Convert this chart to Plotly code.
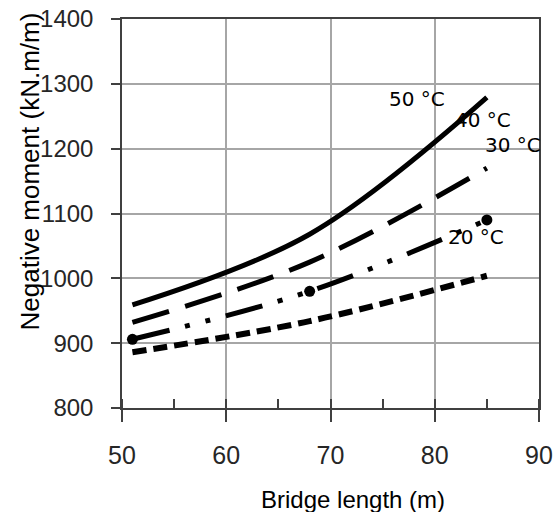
import plotly.graph_objects as go

# Data
bridge_length = [51, 68, 85]
moment_50C = [959, 1068, 1279]
moment_40C = [932, 1025, 1170]
moment_30C = [906, 980, 1090]
moment_20C = [886, 934, 1004]

series_labels = ["50 °C", "40 °C", "30 °C", "20 °C"]
label_x = [78.3, 84.65, 87.5, 84.0]
label_y = [1277, 1244, 1206, 1064]

x_ticks = [50, 60, 70, 80, 90]
y_ticks = [800, 900, 1000, 1100, 1200, 1300, 1400]

fig = go.Figure()

fig.add_trace(go.Scatter(x=bridge_length, y=moment_50C, mode="lines",
                         line=dict(color="black", width=5, shape="spline"),
                         name="50 °C"))
fig.add_trace(go.Scatter(x=bridge_length, y=moment_40C, mode="lines",
                         line=dict(color="black", width=5, shape="spline",
                                   dash="38px,17px"),
                         name="40 °C"))
fig.add_trace(go.Scatter(x=bridge_length, y=moment_30C, mode="lines+markers",
                         line=dict(color="black", width=5, shape="spline",
                                   dash="38px,16px,5px,16px,5px,16px"),
                         marker=dict(color="black", size=11),
                         name="30 °C"))
fig.add_trace(go.Scatter(x=bridge_length, y=moment_20C, mode="lines",
                         line=dict(color="black", width=6, shape="spline",
                                   dash="14px,7px"),
                         name="20 °C"))

for t, xx, yy in zip(series_labels, label_x, label_y):
    fig.add_annotation(x=xx, y=yy, xref="x", yref="y", text=t, showarrow=False,
                       xanchor="center", yanchor="middle",
                       font=dict(family="DejaVu Sans", size=20, color="black"))

fig.add_annotation(x=(29 - 122) / 417, y=(408 - 171.5) / 389, xref="paper", yref="paper",
                   text="Negative moment (kN.m/m)", textangle=-90, showarrow=False,
                   xanchor="center", yanchor="middle",
                   font=dict(family="Liberation Sans", size=26, color="black"))
fig.add_annotation(x=(353 - 122) / 417, y=(408 - 499) / 389, xref="paper", yref="paper",
                   text="Bridge length (m)", showarrow=False,
                   xanchor="center", yanchor="middle",
                   font=dict(family="Liberation Sans", size=24, color="black"))

fig.update_xaxes(range=[50, 90], tickvals=x_ticks, ticktext=[str(v) for v in x_ticks],
                 automargin=False,
                 showgrid=True, gridcolor="#a6a6a6", gridwidth=1.5,
                 showline=True, linecolor="#404040", linewidth=1.5, mirror=True,
                 ticks="outside", ticklen=12, tickcolor="#404040", tickwidth=1.5,
                 ticklabelstandoff=12,
                 minor=dict(ticks="inside", ticklen=9, dtick=5, tick0=50,
                            tickcolor="#404040", tickwidth=1.5, showgrid=False),
                 tickfont=dict(family="Liberation Sans", size=25, color="#262626"),
                 zeroline=False)
fig.update_yaxes(range=[800, 1400], tickvals=y_ticks, ticktext=[str(v) for v in y_ticks],
                 automargin=False,
                 showgrid=True, gridcolor="#a6a6a6", gridwidth=1.5,
                 showline=True, linecolor="#404040", linewidth=1.5, mirror=True,
                 ticks="outside", ticklen=9, tickcolor="#404040", tickwidth=1.5,
                 ticklabelstandoff=13,
                 tickfont=dict(family="Liberation Sans", size=24, color="#262626"),
                 zeroline=False)

fig.update_layout(width=557, height=512, showlegend=False,
                  margin=dict(l=122, r=18, t=19, b=104),
                  paper_bgcolor="white", plot_bgcolor="white")

fig.write_html("out.html", config={"displayModeBar": False},
               post_script="document.body.style.margin='0';")
